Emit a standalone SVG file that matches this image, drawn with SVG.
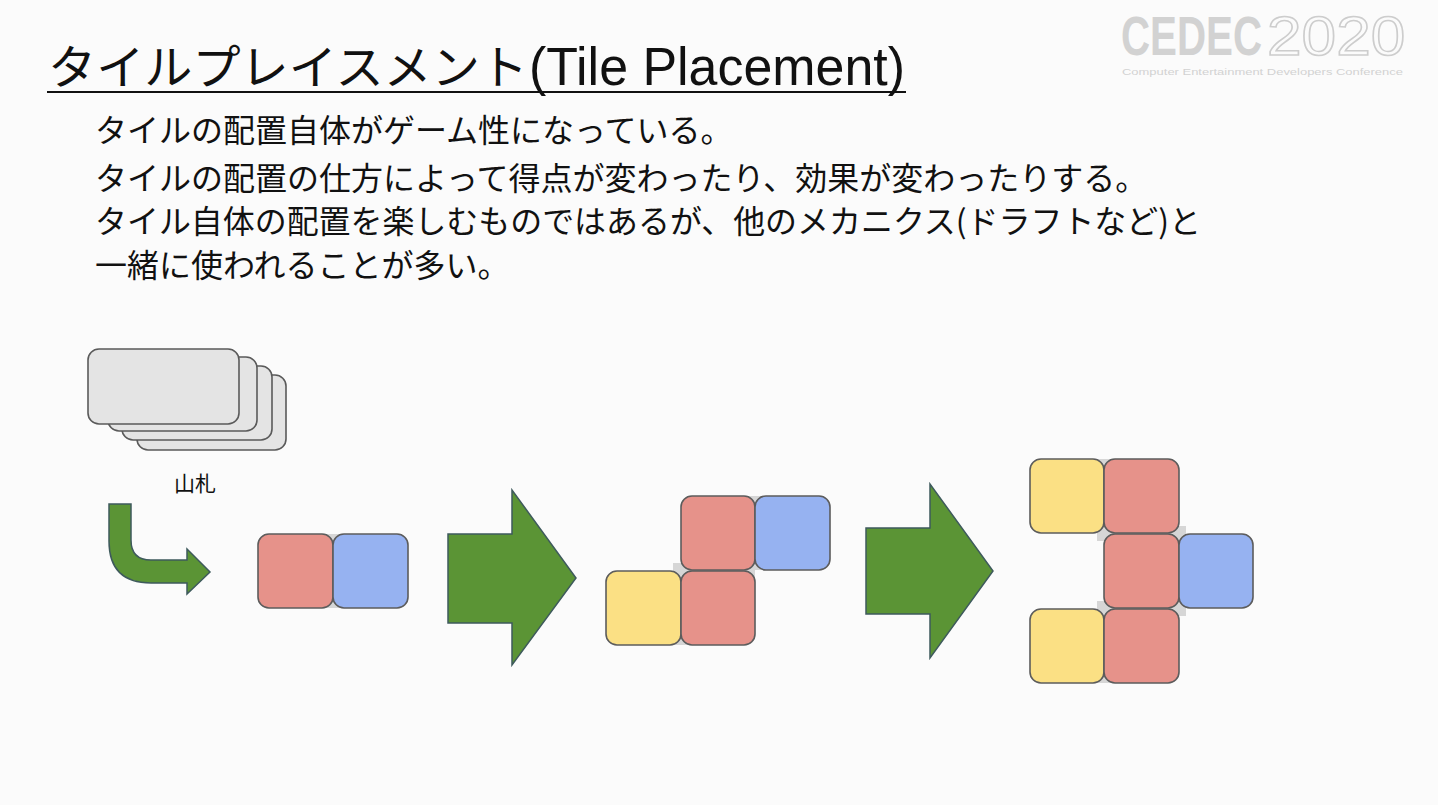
<svg xmlns="http://www.w3.org/2000/svg" width="1438" height="805" viewBox="0 0 1438 805">
<defs>
<style>
.jp{font-family:"Noto Sans CJK JP","Noto Sans",sans-serif;fill:#111}
.lat{font-family:"Liberation Sans",Arial,sans-serif;fill:#111}
.card{fill:#e4e4e4;stroke:#5a5a5a;stroke-width:1.6}
.tile{stroke:#5c5c5c;stroke-width:1.6}
.r{fill:#e6928a}
.b{fill:#96b2f1}
.y{fill:#fbe084}
.gap{fill:#d6d6d6}
.arrow{fill:#5b9435;stroke:#3e5a5c;stroke-width:1.5;stroke-linejoin:miter}
.logo{font-family:"Liberation Sans",Arial,sans-serif;fill:#d2d2d2}
.logo-outline{font-family:"Liberation Sans",Arial,sans-serif;fill:none;stroke:#cdcdcd;stroke-width:1.5}
</style>
</defs>
<rect x="0" y="0" width="1438" height="805" fill="#fbfbfb"/>

<g id="logo">
<text class="logo" transform="translate(1121,55) scale(0.72,1)" font-size="56" font-weight="bold">CEDEC</text>
<text class="logo-outline" transform="translate(1267,55) scale(1.11,1)" font-size="56">2020</text>
<text class="logo" x="1122" y="75" font-size="9.5" textLength="281" lengthAdjust="spacingAndGlyphs">Computer Entertainment Developers Conference</text>
</g>

<g id="title">
<text class="jp" x="48" y="84" font-size="47" textLength="480" lengthAdjust="spacingAndGlyphs">タイルプレイスメント</text>
<text class="lat" x="529" y="85" font-size="54" textLength="376" lengthAdjust="spacingAndGlyphs">(Tile Placement)</text>
<line x1="47" y1="92" x2="906" y2="92" stroke="#111" stroke-width="2.2"/>
</g>

<g id="body-text">
<text class="jp" x="95" y="142" font-size="32">タイルの配置自体がゲーム性になっている。</text>
<text class="jp" x="95" y="190" font-size="32">タイルの配置の仕方によって得点が変わったり、効果が変わったりする。</text>
<text class="jp" x="95" y="233" font-size="32" textLength="1106" lengthAdjust="spacingAndGlyphs">タイル自体の配置を楽しむものではあるが、他のメカニクス(ドラフトなど)と</text>
<text class="jp" x="95" y="277" font-size="32">一緒に使われることが多い。</text>
</g>

<g id="deck">
<rect class="card" x="137" y="375" width="149" height="75" rx="11"/>
<rect class="card" x="122" y="366" width="150" height="74" rx="11"/>
<rect class="card" x="108" y="357" width="149" height="74" rx="11"/>
<rect class="card" x="88" y="349" width="151" height="75" rx="11"/>
<text class="jp" x="195" y="491" font-size="21" text-anchor="middle">山札</text>
</g>

<g id="tiles-1">
<rect class="gap" x="323" y="534" width="20" height="74"/>
<rect class="tile r" x="258" y="534" width="75" height="74" rx="11"/>
<rect class="tile b" x="333" y="534" width="75" height="74" rx="11"/>
</g>

<g id="tiles-2">
<rect class="gap" x="745" y="496" width="20" height="74"/>
<rect class="gap" x="671" y="571" width="20" height="74"/>
<rect class="gap" x="681" y="561" width="74" height="20"/>
<rect class="gap" x="673" y="563" width="10" height="10"/>
<rect class="tile r" x="681" y="496" width="74" height="74" rx="11"/>
<rect class="tile b" x="755" y="496" width="75" height="74" rx="11"/>
<rect class="tile y" x="606" y="571" width="75" height="74" rx="11"/>
<rect class="tile r" x="681" y="571" width="74" height="74" rx="11"/>
</g>

<g id="tiles-3">
<rect class="gap" x="1094" y="459" width="20" height="74"/>
<rect class="gap" x="1094" y="609" width="20" height="74"/>
<rect class="gap" x="1104" y="524" width="75" height="19"/>
<rect class="gap" x="1104" y="599" width="75" height="19"/>
<rect class="gap" x="1169" y="534" width="20" height="74"/>
<rect class="gap" x="1178" y="526" width="8" height="9"/>
<rect class="gap" x="1178" y="607" width="8" height="9"/>
<rect class="gap" x="1097" y="532" width="8" height="9"/>
<rect class="gap" x="1097" y="601" width="8" height="9"/>
<rect class="tile y" x="1030" y="459" width="74" height="74" rx="11"/>
<rect class="tile r" x="1104" y="459" width="75" height="74" rx="11"/>
<rect class="tile r" x="1104" y="534" width="75" height="74" rx="11"/>
<rect class="tile b" x="1179" y="534" width="74" height="74" rx="11"/>
<rect class="tile y" x="1030" y="609" width="74" height="74" rx="11"/>
<rect class="tile r" x="1104" y="609" width="75" height="74" rx="11"/>
</g>

<g id="connectors">
<path class="arrow" d="M109,504 L131,504 L131,540 Q131,560 151,560 L187,560 L187,549 L210,572 L187,594 L187,583 L151,583 Q109,583 109,541 Z"/>
<path class="arrow" d="M448,534 L512,534 L512,490 L576,578 L512,665 L512,623 L448,623 Z"/>
<path class="arrow" d="M866,528 L930,528 L930,484 L993,571 L930,658 L930,614 L866,614 Z"/>
</g>
</svg>
